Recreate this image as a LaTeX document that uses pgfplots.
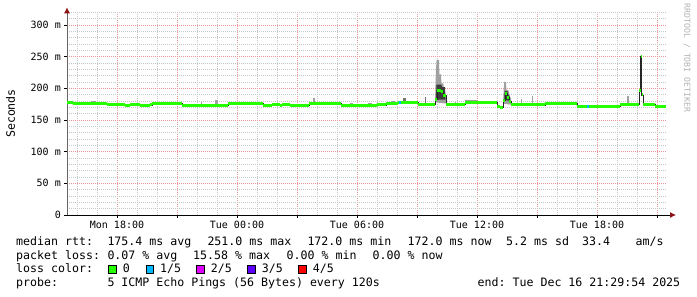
\documentclass[border=0pt]{standalone}
\usepackage{fontspec}
\usepackage{pgfplots}
\usepackage{pgfplotstable}
\pgfplotsset{compat=1.18}
\usetikzlibrary{arrows.meta}
\newfontfamily\rrd{DejaVu Sans Mono}
\newcommand\lgfont{\rrd\fontsize{11.6}{14}\selectfont\frenchspacing}
\newcommand\axfont{\rrd\fontsize{10}{12}\selectfont\frenchspacing}
\definecolor{medgreen}{HTML}{26FF00}
\definecolor{lossblue}{HTML}{00B8FF}
\definecolor{lossmag}{HTML}{DD00FF}
\definecolor{lossvio}{HTML}{5E00FF}
\definecolor{lossred}{HTML}{FF0000}
\definecolor{mgrid}{RGB}{235,150,150}
\definecolor{igrid}{RGB}{200,200,200}
\definecolor{smokelight}{RGB}{160,160,160}
\definecolor{smokedark}{RGB}{60,60,60}
\definecolor{arrowred}{RGB}{140,20,20}

\pgfplotstableread{
h ms
15.5 177.0
15.8 176.3
17.5 173.7
18.4 172.5
18.65 173.7
19.15 172.5
19.65 173.7
19.75 176.3
21.25 172.2
23.55 176.0
25.3 173.0
25.75 174.5
26.15 173.0
26.25 174.5
26.65 173.0
27.6 176.0
29.2 173.0
31.0 173.7
31.45 176.0
32.05 177.5
33.05 175.0
33.9 183.0
34.0 197.0
34.2 194.5
34.3 189.0
34.45 174.8
35.4 178.0
37.0 172.0
37.15 170.5
37.3 181.5
37.4 192.0
37.5 185.0
37.6 179.0
37.7 173.7
39.4 176.3
41.0 172.0
43.15 175.0
44.1 197.0
44.18 250.0
44.24 189.5
44.3 175.0
44.9 172.0
45.45 172.0
}\median

\begin{document}
\begin{tikzpicture}
\path[use as bounding box] (0,0) rectangle (697pt,297pt);
\begin{axis}[
  at={(67pt,82pt)}, anchor=south west,
  scale only axis, width=600pt, height=202.67pt,
  xmin=15.5, xmax=45.5, ymin=0, ymax=320,
  axis x line=bottom, axis y line=left,
  x axis line style={black, line width=0.8pt, -{Latex[length=6pt,width=6pt,color=arrowred]}, shorten >=-9pt},
  y axis line style={black!60, line width=0.8pt, -{Latex[length=6pt,width=6pt,color=arrowred]}, shorten >=-5pt},
  xtick={18,21,...,45},
  xticklabels={Mon 18:00,{},Tue 00:00,{},Tue 06:00,{},Tue 12:00,{},Tue 18:00,{}},
  minor xtick={16,17,19,20,22,23,25,26,28,29,31,32,34,35,37,38,40,41,43,44},
  ytick={0,50,...,300},
  yticklabels={0,50 m,100 m,150 m,200 m,250 m,300 m},
  minor ytick={10,20,30,40,60,70,80,90,110,120,130,140,160,170,180,190,210,220,230,240,260,270,280,290,310,320},
  grid=both,
  major grid style={mgrid, line width=0.8pt, dash pattern=on 1pt off 1pt},
  minor grid style={igrid, line width=0.8pt, dash pattern=on 1pt off 1pt},
  tick align=outside, major tick length=3pt, minor tick length=0pt,
  tick style={black, line width=0.8pt},
  xticklabel style={font=\axfont, anchor=north, inner sep=0pt},
  yticklabel style={font=\axfont, anchor=east, inner sep=0pt},
  xticklabel shift=3pt, yticklabel shift=3pt,
  clip=false,
]
% smoke (light)
\addplot[fill=smokelight, draw=none] coordinates {(16.27,176.3)(16.27,178.6)(16.45,178.6)(16.45,176.3)};
\addplot[fill=smokelight, draw=none] coordinates {(16.7,176.3)(16.7,180.4)(16.95,180.4)(16.95,176.3)};
\addplot[fill=smokelight, draw=none] coordinates {(22.19,172.2)(22.19,178)(22.24,178)(22.24,172.2)};
\addplot[fill=smokelight, draw=none] coordinates {(22.9,172.2)(22.9,181.6)(23.04,181.6)(23.04,172.2)};
\addplot[fill=smokelight, draw=none] coordinates {(27.8,173)(27.8,185)(27.88,185)(27.88,173)};
\addplot[fill=smokelight, draw=none] coordinates {(29.65,173)(29.65,177)(29.8,177)(29.8,173)};
\addplot[fill=smokelight, draw=none] coordinates {(30.55,173)(30.55,177)(30.75,177)(30.75,173)};
\addplot[fill=smokelight, draw=none] coordinates {(31.7,176)(31.7,180)(31.9,180)(31.9,176)};
\addplot[fill=smokedark!70, draw=none] coordinates {(32.28,177.5)(32.28,184.3)(32.45,184.3)(32.45,177.5)};
\addplot[fill=smokedark!70, draw=none] coordinates {(33.4,175)(33.4,187)(33.46,187)(33.46,175)};
\addplot[fill=smokelight, draw=none] coordinates {(33.9,178)(33.92,200)(33.95,230)(33.98,245)(34.1,245)(34.12,222)(34.2,222)(34.22,208)(34.32,208)(34.35,198)(34.42,190)(34.45,176)};
\addplot[fill=smokedark, draw=none] coordinates {(33.95,182)(33.97,206)(34.22,206)(34.25,202)(34.4,202)(34.43,182)};
\addplot[fill=smokelight, draw=none] coordinates {(34.9,174.8)(34.9,179)(34.95,179)(34.95,174.8)};
\addplot[fill=smokelight, draw=none] coordinates {(35.4,178)(35.4,181.6)(36.0,181.6)(36.0,178)};
\addplot[fill=smokelight, draw=none] coordinates {(37.3,176)(37.33,195)(37.36,210)(37.45,210)(37.47,198)(37.6,196)(37.62,188)(37.7,184)(37.72,174)};
\addplot[fill=smokedark, draw=none] coordinates {(37.36,182)(37.38,196)(37.52,196)(37.55,190)(37.62,190)(37.64,180)};
\addplot[fill=smokelight, draw=none] coordinates {(37.75,173.7)(37.75,177.4)(38.5,177.4)(38.5,173.7)};
\addplot[fill=smokelight, draw=none] coordinates {(38.2,173.7)(38.2,182.7)(38.26,182.7)(38.26,173.7)};
\addplot[fill=smokelight, draw=none] coordinates {(38.73,173.7)(38.73,188.4)(38.78,188.4)(38.78,173.7)};
\addplot[fill=smokelight, draw=none] coordinates {(39.5,176.3)(39.5,179)(39.55,179)(39.55,176.3)};
\addplot[fill=smokelight, draw=none] coordinates {(43.5,175)(43.5,188)(43.6,188)(43.6,175)};
% median
\addplot[black!85, line width=0.9pt, const plot] table[x=h, y=ms] {\median};
\addplot[medgreen, line width=3pt, jump mark left] table[x=h, y=ms] {\median};
% loss 1/5 segments
\addplot[lossblue, line width=3pt] coordinates {(32.12,177.5)(32.2,177.5)};
\addplot[lossblue, line width=3pt] coordinates {(41.52,172.0)(41.6,172.0)};
\end{axis}
% labels
\node[rotate=90, inner sep=0pt] at (10.5pt,183.5pt) {\lgfont Seconds};
\node[rotate=-90, inner sep=0pt, text=black!30] at (687pt,239pt) {\rrd\fontsize{8.2}{9}\selectfont RRDTOOL~/~TOBI~OETIKER};
% legend
\node[anchor=base west, inner sep=0pt] at (16pt,51.7pt) {\lgfont median~rtt:};
\node[anchor=base west, inner sep=0pt] at (107.3pt,51.7pt) {\lgfont 175.4~ms~avg};
\node[anchor=base west, inner sep=0pt] at (207.3pt,51.7pt) {\lgfont 251.0~ms~max};
\node[anchor=base west, inner sep=0pt] at (307.3pt,51.7pt) {\lgfont 172.0~ms~min};
\node[anchor=base west, inner sep=0pt] at (407.5pt,51.7pt) {\lgfont 172.0~ms~now};
\node[anchor=base west, inner sep=0pt] at (506pt,51.7pt) {\lgfont 5.2~ms~sd};
\node[anchor=base west, inner sep=0pt] at (582pt,51.7pt) {\lgfont 33.4};
\node[anchor=base west, inner sep=0pt] at (635.5pt,51.7pt) {\lgfont am/s};
\node[anchor=base west, inner sep=0pt] at (16pt,37.7pt) {\lgfont packet~loss:};
\node[anchor=base west, inner sep=0pt] at (107.3pt,37.7pt) {\lgfont 0.07~\%~avg};
\node[anchor=base west, inner sep=0pt] at (193pt,37.7pt) {\lgfont 15.58~\%~max};
\node[anchor=base west, inner sep=0pt] at (286.5pt,37.7pt) {\lgfont 0.00~\%~min};
\node[anchor=base west, inner sep=0pt] at (372.5pt,37.7pt) {\lgfont 0.00~\%~now};
\node[anchor=base west, inner sep=0pt] at (16pt,24.3pt) {\lgfont loss~color:};
\draw[black, line width=0.8pt, fill=medgreen] (108.3pt,23.3pt) rectangle (116pt,31.7pt);
\node[anchor=base west, inner sep=0pt] at (122.7pt,24.3pt) {\lgfont 0};
\draw[black, line width=0.8pt, fill=lossblue] (146pt,23.3pt) rectangle (153.7pt,31.7pt);
\node[anchor=base west, inner sep=0pt] at (160pt,24.3pt) {\lgfont 1/5};
\draw[black, line width=0.8pt, fill=lossmag] (196.7pt,23.3pt) rectangle (204.4pt,31.7pt);
\node[anchor=base west, inner sep=0pt] at (210.7pt,24.3pt) {\lgfont 2/5};
\draw[black, line width=0.8pt, fill=lossvio] (247.3pt,23.3pt) rectangle (255pt,31.7pt);
\node[anchor=base west, inner sep=0pt] at (261.7pt,24.3pt) {\lgfont 3/5};
\draw[black, line width=0.8pt, fill=lossred] (298.3pt,23.3pt) rectangle (306pt,31.7pt);
\node[anchor=base west, inner sep=0pt] at (312.7pt,24.3pt) {\lgfont 4/5};
\node[anchor=base west, inner sep=0pt] at (16pt,10pt) {\lgfont probe:};
\node[anchor=base west, inner sep=0pt] at (107.3pt,10pt) {\lgfont 5~ICMP~Echo~Pings~(56~Bytes)~every~120s};
\node[anchor=base west, inner sep=0pt] at (477.5pt,10pt) {\lgfont end:~Tue~Dec~16~21:29:54~2025};
\end{tikzpicture}
\end{document}
